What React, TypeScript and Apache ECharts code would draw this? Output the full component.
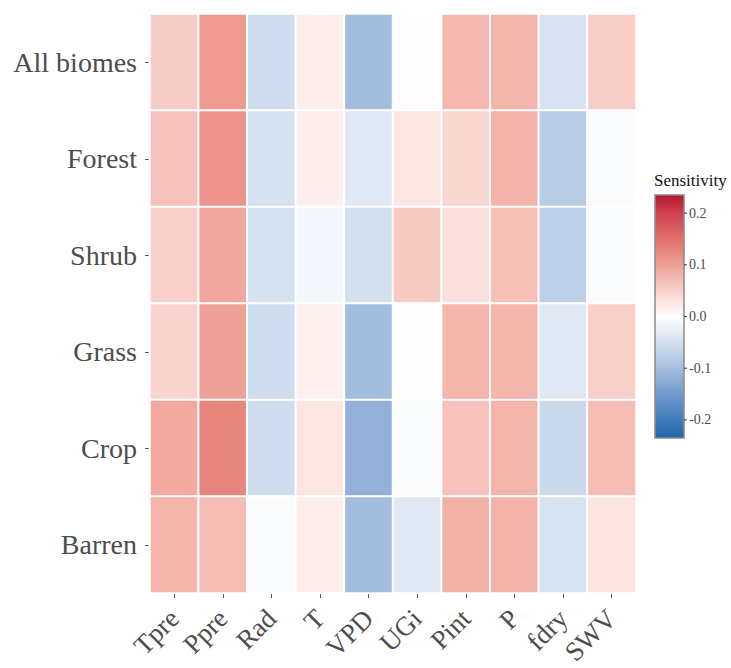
import React, { useEffect, useRef } from "react";
import * as echarts from "echarts";

const variables = ["Tpre", "Ppre", "Rad", "T", "VPD", "UGi", "Pint", "P", "fdry", "SWV"];
const biomes = ["All biomes", "Forest", "Shrub", "Grass", "Crop", "Barren"];

const allBiomes = [0.054, 0.105, -0.054, 0.018, -0.103, 0.002, 0.075, 0.078, -0.043, 0.052];
const forest = [0.065, 0.112, -0.047, 0.017, -0.034, 0.027, 0.044, 0.08, -0.079, -0.006];
const shrub = [0.05, 0.092, -0.048, -0.012, -0.05, 0.056, 0.032, 0.067, -0.075, -0.006];
const grass = [0.046, 0.098, -0.054, 0.016, -0.103, 0.001, 0.078, 0.078, -0.036, 0.051];
const crop = [0.09, 0.127, -0.054, 0.027, -0.117, -0.005, 0.064, 0.078, -0.06, 0.069];
const barren = [0.078, 0.07, -0.007, 0.018, -0.103, -0.035, 0.083, 0.08, -0.044, 0.028];

const rows = [allBiomes, forest, shrub, grass, crop, barren];

const legendTicks = [0.2, 0.1, 0.0, -0.1, -0.2];
const scaleMin = -0.25;
const scaleMax = 0.25;
const scaleColors = [
  "#1f64a9", "#3f7dbb", "#7099cc", "#a6bfdf", "#d3dfef", "#ffffff",
  "#f9d0ca", "#ef9f95", "#e2716b", "#cf4150", "#b2182b",
];
const legendMin = -0.235;
const legendMax = 0.235;

const SERIF = '"Liberation Serif", "Times New Roman", serif';

export default function App() {
  const ref = useRef<HTMLDivElement>(null);
  useEffect(() => {
    document.body.style.margin = "0";
    if (!ref.current) return;
    const chart = echarts.init(ref.current, null, { renderer: "svg" });
    const data: [number, number, number][] = [];
    rows.forEach((r, yi) => r.forEach((v, xi) => data.push([xi, yi, v])));

    const barTop = 195;
    const barH = 243;
    const barLeft = 655;
    const barW = 29;
    const posOf = (v: number) => barTop + ((legendMax - v) / (legendMax - legendMin)) * barH;
    const step = (scaleMax - scaleMin) / (scaleColors.length - 1);
    const stops: { offset: number; color: string }[] = [];
    scaleColors.forEach((c, i) => {
      const v = scaleMin + i * step;
      const off = (legendMax - v) / (legendMax - legendMin);
      stops.push({ offset: Math.min(1, Math.max(0, off)), color: c });
    });
    stops.sort((a, b) => a.offset - b.offset);
    const legendEls: any[] = [
      {
        type: "text",
        left: 654,
        top: 172,
        style: { text: "Sensitivity", fontFamily: SERIF, fontSize: 17, fill: "#111" },
      },
      {
        type: "rect",
        shape: { x: barLeft, y: barTop, width: barW, height: barH },
        style: {
          fill: new echarts.graphic.LinearGradient(0, 0, 0, 1, stops),
          stroke: "#8a8a8a",
          lineWidth: 1.5,
        },
      },
    ];
    legendTicks.forEach((t) => {
      const y = posOf(t);
      legendEls.push({
        type: "line",
        shape: { x1: barLeft + barW, y1: y, x2: barLeft + barW + 3, y2: y },
        style: { stroke: "#333", lineWidth: 1 },
      });
      legendEls.push({
        type: "text",
        x: barLeft + barW + 5,
        y: y,
        style: {
          text: t.toFixed(1),
          fontFamily: SERIF,
          fontSize: 14,
          fill: "#4d4d4d",
          verticalAlign: "middle",
        },
      });
    });

    chart.setOption({
      animation: false,
      backgroundColor: "#ffffff",
      grid: { left: 150, right: 95, top: 14, bottom: 75, containLabel: false, outerBoundsMode: "none" },
      xAxis: {
        type: "category",
        data: variables,
        axisLine: { show: false },
        axisTick: { show: true, alignWithLabel: true, length: 5, lineStyle: { color: "#555" } },
        axisLabel: {
          rotate: 45,
          margin: 21,
          fontFamily: SERIF,
          fontSize: 27,
          color: "#4d4d4d",
          interval: 0,
        },
        splitArea: { show: false },
      },
      yAxis: {
        type: "category",
        data: biomes,
        inverse: true,
        axisLine: { show: false },
        axisTick: { show: true, alignWithLabel: true, length: 5, lineStyle: { color: "#555" } },
        axisLabel: {
          margin: 13,
          fontFamily: SERIF,
          fontSize: 28,
          color: "#4d4d4d",
        },
        splitArea: { show: false },
      },
      visualMap: {
        show: false,
        type: "continuous",
        min: scaleMin,
        max: scaleMax,
        dimension: 2,
        inRange: { color: scaleColors },
      },
      series: [
        {
          type: "heatmap",
          data,
          itemStyle: { borderColor: "#ffffff", borderWidth: 2 },
          emphasis: { disabled: true },
        },
      ],
      graphic: legendEls,
    });
    return () => chart.dispose();
  }, []);
  return <div ref={ref} style={{ width: 731, height: 668 }} />;
}
